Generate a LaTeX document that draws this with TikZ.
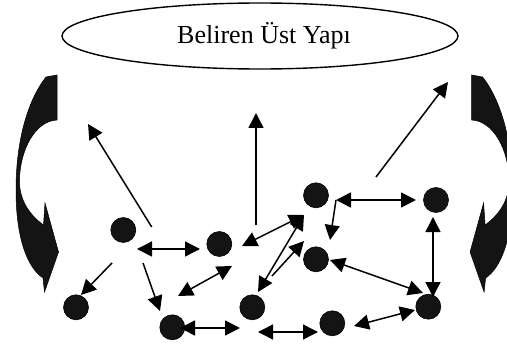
\documentclass[tikz,border=0pt]{standalone}
\usepackage{fontspec}
\setmainfont{Liberation Serif}
\usetikzlibrary{arrows.meta,shapes.geometric}
\definecolor{dot}{RGB}{20,20,20}
\tikzset{
  dotnode/.style={circle,fill=dot,draw=black,line width=0.6pt,minimum size=25pt,inner sep=0pt},
  link/.style={line width=1.5pt,-{Triangle[length=15pt,width=15pt]}},
  dlink/.style={line width=1.5pt,{Triangle[length=15pt,width=15pt]}-{Triangle[length=15pt,width=15pt]}},
  bendarrow/.style={fill=dot,draw=black,line width=0.5pt},
  topbox/.style={ellipse,draw=black,line width=1.4pt,minimum width=396pt,minimum height=66pt,inner sep=0pt,
    font=\fontsize{26}{30}\selectfont},
}
\begin{document}
\begin{tikzpicture}[x=1pt,y=-1pt]
\useasboundingbox (0,0) rectangle (507,345);
\begin{scope}
\clip (0,0) rectangle (507,345);
% left curved arrow
\path[bendarrow] (57,75) -- (46,77) .. controls (28,100) and (16,140) .. (16,190)
  .. controls (16,240) and (28,268) .. (43,278) -- (44.5,292) -- (58.5,252) -- (45,203) -- (43.5,225)
  .. controls (28,214) and (19,198) .. (19.5,180) .. controls (20,150) and (35,121) .. (57,120) -- cycle;
% right curved arrow (mirror)
\begin{scope}[xshift=528.6pt,xscale=-1]
\path[bendarrow] (57,75) -- (46,77) .. controls (28,100) and (16,140) .. (16,190)
  .. controls (16,240) and (28,268) .. (43,278) -- (44.5,292) -- (58.5,252) -- (45,203) -- (43.5,225)
  .. controls (28,214) and (19,198) .. (19.5,180) .. controls (20,150) and (35,121) .. (57,120) -- cycle;
\end{scope}
\end{scope}

\node[topbox] (top) at (260,36) {\hspace*{8pt}Beliren Üst Yapı};

\node[dotnode] (A) at (123.3,230) {};
\node[dotnode] (B) at (219.3,244) {};
\node[dotnode] (C) at (76,307.3) {};
\node[dotnode] (D) at (172.3,327.3) {};
\node[dotnode] (E) at (252.3,307.3) {};
\node[dotnode] (F) at (316,195.3) {};
\node[dotnode] (G) at (436,200) {};
\node[dotnode] (H) at (316,259.3) {};
\node[dotnode] (I) at (428.3,306.7) {};
\node[dotnode] (J) at (332.3,323.3) {};

\coordinate (a1s) at (151.7,227);  \coordinate (a1e) at (88,124);
\coordinate (a2s) at (256,225);    \coordinate (a2e) at (256,113);
\coordinate (a3s) at (376,177);    \coordinate (a3e) at (448,82);
\coordinate (ab1) at (137,249);    \coordinate (ab2) at (200,249);
\coordinate (ac1) at (112,263);    \coordinate (ac2) at (81,295);
\coordinate (ad1) at (143,263);    \coordinate (ad2) at (160,311);
\coordinate (b1) at (178,296);     \coordinate (b2) at (232,266);
\coordinate (bf1) at (242,246);    \coordinate (bf2) at (304,215);
\coordinate (de1) at (180,328);    \coordinate (de2) at (240,328);
\coordinate (ej1) at (258,332);    \coordinate (ej2) at (318,332);
\coordinate (ji1) at (354,326);    \coordinate (ji2) at (415,310);
\coordinate (hi1) at (330,260);    \coordinate (hi2) at (423,293);
\coordinate (gi1) at (433,217);    \coordinate (gi2) at (433,297);
\coordinate (fg1) at (336,200);    \coordinate (fg2) at (416,200);
\coordinate (fh2) at (330,240);
\coordinate (ef1) at (258,292);
\coordinate (eh1) at (272,276);    \coordinate (eh2) at (304,241);

\draw[link] (a1s) -- (a1e);
\draw[link] (a2s) -- (a2e);
\draw[link] (a3s) -- (a3e);
\draw[dlink] (ab1) -- (ab2);
\draw[link] (ac1) -- (ac2);
\draw[link] (ad1) -- (ad2);
\draw[dlink] (b1) -- (b2);
\draw[dlink] (bf1) -- (bf2);
\draw[dlink] (de1) -- (de2);
\draw[dlink] (ej1) -- (ej2);
\draw[dlink] (ji1) -- (ji2);
\draw[dlink] (hi1) -- (hi2);
\draw[dlink] (gi1) -- (gi2);
\draw[dlink] (fg1) -- (fg2);
\draw[link] (fg1) -- (fh2);
\draw[dlink] (ef1) -- (bf2);
\draw[link] (eh1) -- (eh2);
\end{tikzpicture}
\end{document}
